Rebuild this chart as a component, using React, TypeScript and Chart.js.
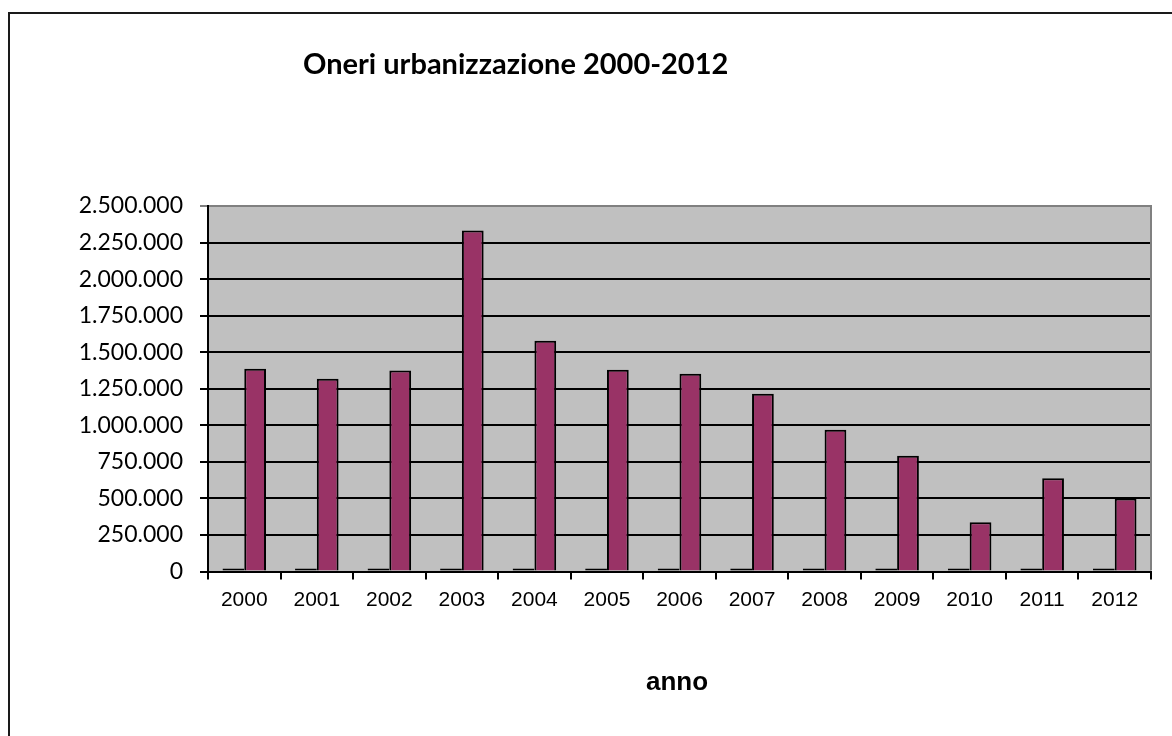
import React, { useEffect, useRef } from "react";
import { Chart, registerables } from "chart.js";

Chart.register(...registerables);

const years = ["2000","2001","2002","2003","2004","2005","2006","2007","2008","2009","2010","2011","2012"];
const smallSeries = [20000,20000,20000,20000,20000,20000,20000,20000,20000,20000,20000,20000,20000];
const oneri = [1387000,1318000,1375000,2332000,1579000,1380000,1353000,1216000,969000,791000,337000,638000,499000];
const titleText = "Oneri urbanizzazione 2000-2012";
const xTitleText = "anno";
const yMax = 2500000;
const yStep = 250000;

const fmt = (v: number) => {
  const s = Math.round(v).toString();
  return s.replace(/\B(?=(\d{3})+(?!\d))/g, ".");
};

const decorPlugin = {
  id: "decor",
  beforeDraw(chart: any) {
    const { ctx, chartArea } = chart;
    ctx.save();
    ctx.fillStyle = "#C0C0C0";
    ctx.fillRect(chartArea.left, chartArea.top, chartArea.right - chartArea.left, chartArea.bottom - chartArea.top);
    ctx.restore();
  },
  afterDraw(chart: any) {
    const { ctx, chartArea } = chart;
    ctx.save();
    ctx.strokeStyle = "#808080";
    ctx.lineWidth = 2;
    ctx.beginPath();
    ctx.moveTo(chartArea.left + 1, chartArea.top);
    ctx.lineTo(chartArea.right, chartArea.top);
    ctx.lineTo(chartArea.right, chartArea.bottom - 1);
    ctx.stroke();
    ctx.fillStyle = "#000";
    ctx.textAlign = "left";
    ctx.textBaseline = "alphabetic";
    ctx.font = "bold 29px Lato";
    ctx.fillText(titleText, 303, 74);
    ctx.textAlign = "center";
    ctx.font = "bold 26px 'Liberation Sans'";
    ctx.fillText(xTitleText, 677, 690);
    ctx.restore();
  },
};

export default function App() {
  const ref = useRef<HTMLCanvasElement | null>(null);
  useEffect(() => {
    if (!ref.current) return;
    const chart = new Chart(ref.current, {
      type: "bar",
      data: {
        labels: years,
        datasets: [
          {
            label: "serie1",
            data: smallSeries,
            backgroundColor: "#000000",
            borderColor: "#000000",
            borderWidth: 1,
            borderSkipped: false,
            categoryPercentage: 0.6,
            barPercentage: 1,
          },
          {
            label: "Oneri",
            data: oneri,
            backgroundColor: "#993366",
            borderColor: "#000000",
            borderWidth: 2,
            categoryPercentage: 0.6,
            barPercentage: 1,
          },
        ],
      },
      options: {
        animation: false,
        responsive: false,
        maintainAspectRatio: false,
        layout: { padding: { top: 206, right: 21, bottom: 104.5, left: 0 } },
        plugins: { legend: { display: false }, tooltip: { enabled: false }, title: { display: false } },
        scales: {
          x: {
            offset: true,
            grid: {
              offset: true,
              drawOnChartArea: false,
              drawTicks: true,
              tickLength: 8,
              color: "#000",
              lineWidth: 2,
            },
            border: { display: true, color: "#000", width: 2 },
            ticks: {
              color: "#000",
              font: { family: "'Liberation Sans'", size: 21 },
              padding: 8,
              maxRotation: 0,
              autoSkip: false,
            },
            afterFit(scale: any) {
              scale.height = 60;
            },
          },
          y: {
            min: 0,
            max: yMax,
            grid: {
              color: (c: any) => (c.tick && c.tick.value === yMax ? "#808080" : "#000"),
              lineWidth: 2,
              drawTicks: true,
              tickLength: 8,
            },
            border: { display: true, color: "#000", width: 2 },
            ticks: {
              stepSize: yStep,
              color: "#000",
              font: { family: "Lato", size: 23 },
              padding: 17,
              callback: (v: any) => fmt(Number(v)),
            },
            afterFit(scale: any) {
              scale.width = 208;
            },
          },
        },
      },
      plugins: [decorPlugin],
    } as any);
    return () => chart.destroy();
  }, []);
  return (
    <div style={{ position: "fixed", left: 0, top: 0, width: 1172, height: 736, overflow: "hidden", background: "#fff" }}>
      <div style={{ position: "absolute", left: 8, top: 12, width: 1200, height: 800, borderLeft: "2px solid #1a1a1a", borderTop: "2px solid #1a1a1a" }} />
      <canvas ref={ref} width={1172} height={736} style={{ position: "absolute", left: 0, top: 0 }} />
    </div>
  );
}
